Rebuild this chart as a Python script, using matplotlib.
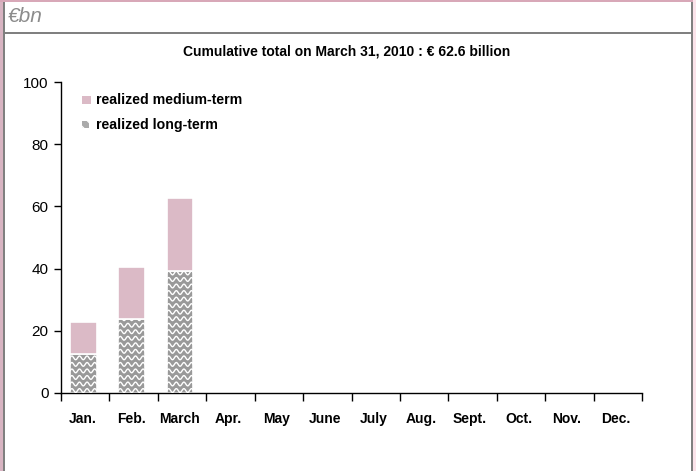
import numpy as np
import matplotlib
matplotlib.use("Agg")
import matplotlib.pyplot as plt
from matplotlib.patches import Rectangle
from matplotlib import font_manager

months = ["Jan.", "Feb.", "March", "Apr.", "May", "June", "July", "Aug.", "Sept.", "Oct.", "Nov.", "Dec."]
long_term = [12.5, 23.8, 39.2]
medium_term = [10.4, 16.8, 23.4]
yticks = [0, 20, 40, 60, 80, 100]
title = "Cumulative total on March 31, 2010 : \u20ac 62.6 billion"
unit_label = "\u20acbn"
legend_labels = ["realized medium-term", "realized long-term"]

PINK = "#dbbac6"
GRAY = "#999999"

names = {f.name for f in font_manager.fontManager.ttflist}
narrow = "Liberation Sans Narrow" if "Liberation Sans Narrow" in names else "Liberation Sans"
plt.rcParams["font.family"] = [narrow, "DejaVu Sans"]

W, H = 696, 471
fig = plt.figure(figsize=(W / 100, H / 100), dpi=100)

# frame decorations (figure pixel coordinates)
def px_rect(x0, y0, w, h, color):
    fig.patches.append(Rectangle((x0 / W, 1 - (y0 + h) / H), w / W, h / H,
                                 transform=fig.transFigure, color=color, lw=0, zorder=0))

px_rect(0, 0, 3, H, "#d8b4c2")
px_rect(0, 0, W, 2, "#d8a8b8")
px_rect(3, 2, 2, H - 2, "#808080")
px_rect(691, 2, 2, H - 2, "#808080")
px_rect(693, 0, 3, H, "#fbe3ea")
px_rect(3, 32, 690, 2, "#808080")

fig.text(8 / W, 1 - 17 / H, unit_label, fontsize=15, style="italic", color="#8c8c8c",
         va="center", ha="left", family=["Liberation Sans", "DejaVu Sans"])
fig.text(347 / W, 1 - 51 / H, title, fontsize=10, fontweight="bold", ha="center", va="center")

ax = fig.add_axes([61 / W, 1 - 393 / H, (642 - 61) / W, (393 - 82) / H])
ax.set_xlim(0, 12)
ax.set_ylim(0, 100)

x = np.arange(len(long_term)) + 0.46
width = 0.55
lt_bars = ax.bar(x, long_term, width=width, color=GRAY, edgecolor="white", linewidth=1.2, zorder=2)
md_bars = ax.bar(x, medium_term, bottom=long_term, width=width, color=PINK, edgecolor="white",
                 linewidth=1.2, zorder=2)

# wavy white pattern inside long-term bars
for b in lt_bars:
    x0 = b.get_x()
    w = b.get_width()
    top = b.get_height()
    xs = np.linspace(x0, x0 + w, 80)
    yy = 0.8
    while yy < top + 2:
        ys = yy + 0.6 * np.sin((xs - x0) / w * 2 * np.pi * 3.5)
        ln, = ax.plot(xs, ys, color="white", lw=1.0, zorder=3)
        ln.set_clip_path(b)
        yy += 2.1

ax.spines["top"].set_visible(False)
ax.spines["right"].set_visible(False)
for s in ("left", "bottom"):
    ax.spines[s].set_linewidth(1.0)
    ax.spines[s].set_color("black")

ax.set_yticks(yticks)
ax.set_yticklabels([str(v) for v in yticks], fontsize=11, family=["Liberation Sans", "DejaVu Sans"])
ax.tick_params(axis="y", direction="out", length=5, width=1, pad=4)

ax.set_xticks(np.arange(0, 13))
ax.set_xticklabels([])
ax.set_xticks(np.arange(12) + 0.45, minor=True)
ax.set_xticklabels(months, minor=True, fontsize=10, fontweight="bold")
ax.tick_params(axis="x", which="major", direction="out", length=6, width=1)
ax.tick_params(axis="x", which="minor", length=0, pad=14)

# legend
fig.patches.append(Rectangle((82 / W, 1 - 104 / H), 8.5 / W, 8.5 / H, transform=fig.transFigure,
                             color=PINK, lw=0))
fig.patches.append(Rectangle((82 / W, 1 - 128 / H), 7 / W, 7 / H, transform=fig.transFigure,
                             color="#aaaaaa", lw=0, hatch="\\\\\\", ec="white"))
fig.text(96 / W, 1 - 100 / H, legend_labels[0], fontsize=10.2, fontweight="bold", va="center")
fig.text(96 / W, 1 - 125 / H, legend_labels[1], fontsize=10.2, fontweight="bold", va="center")

fig.savefig("out.png", dpi=100)
